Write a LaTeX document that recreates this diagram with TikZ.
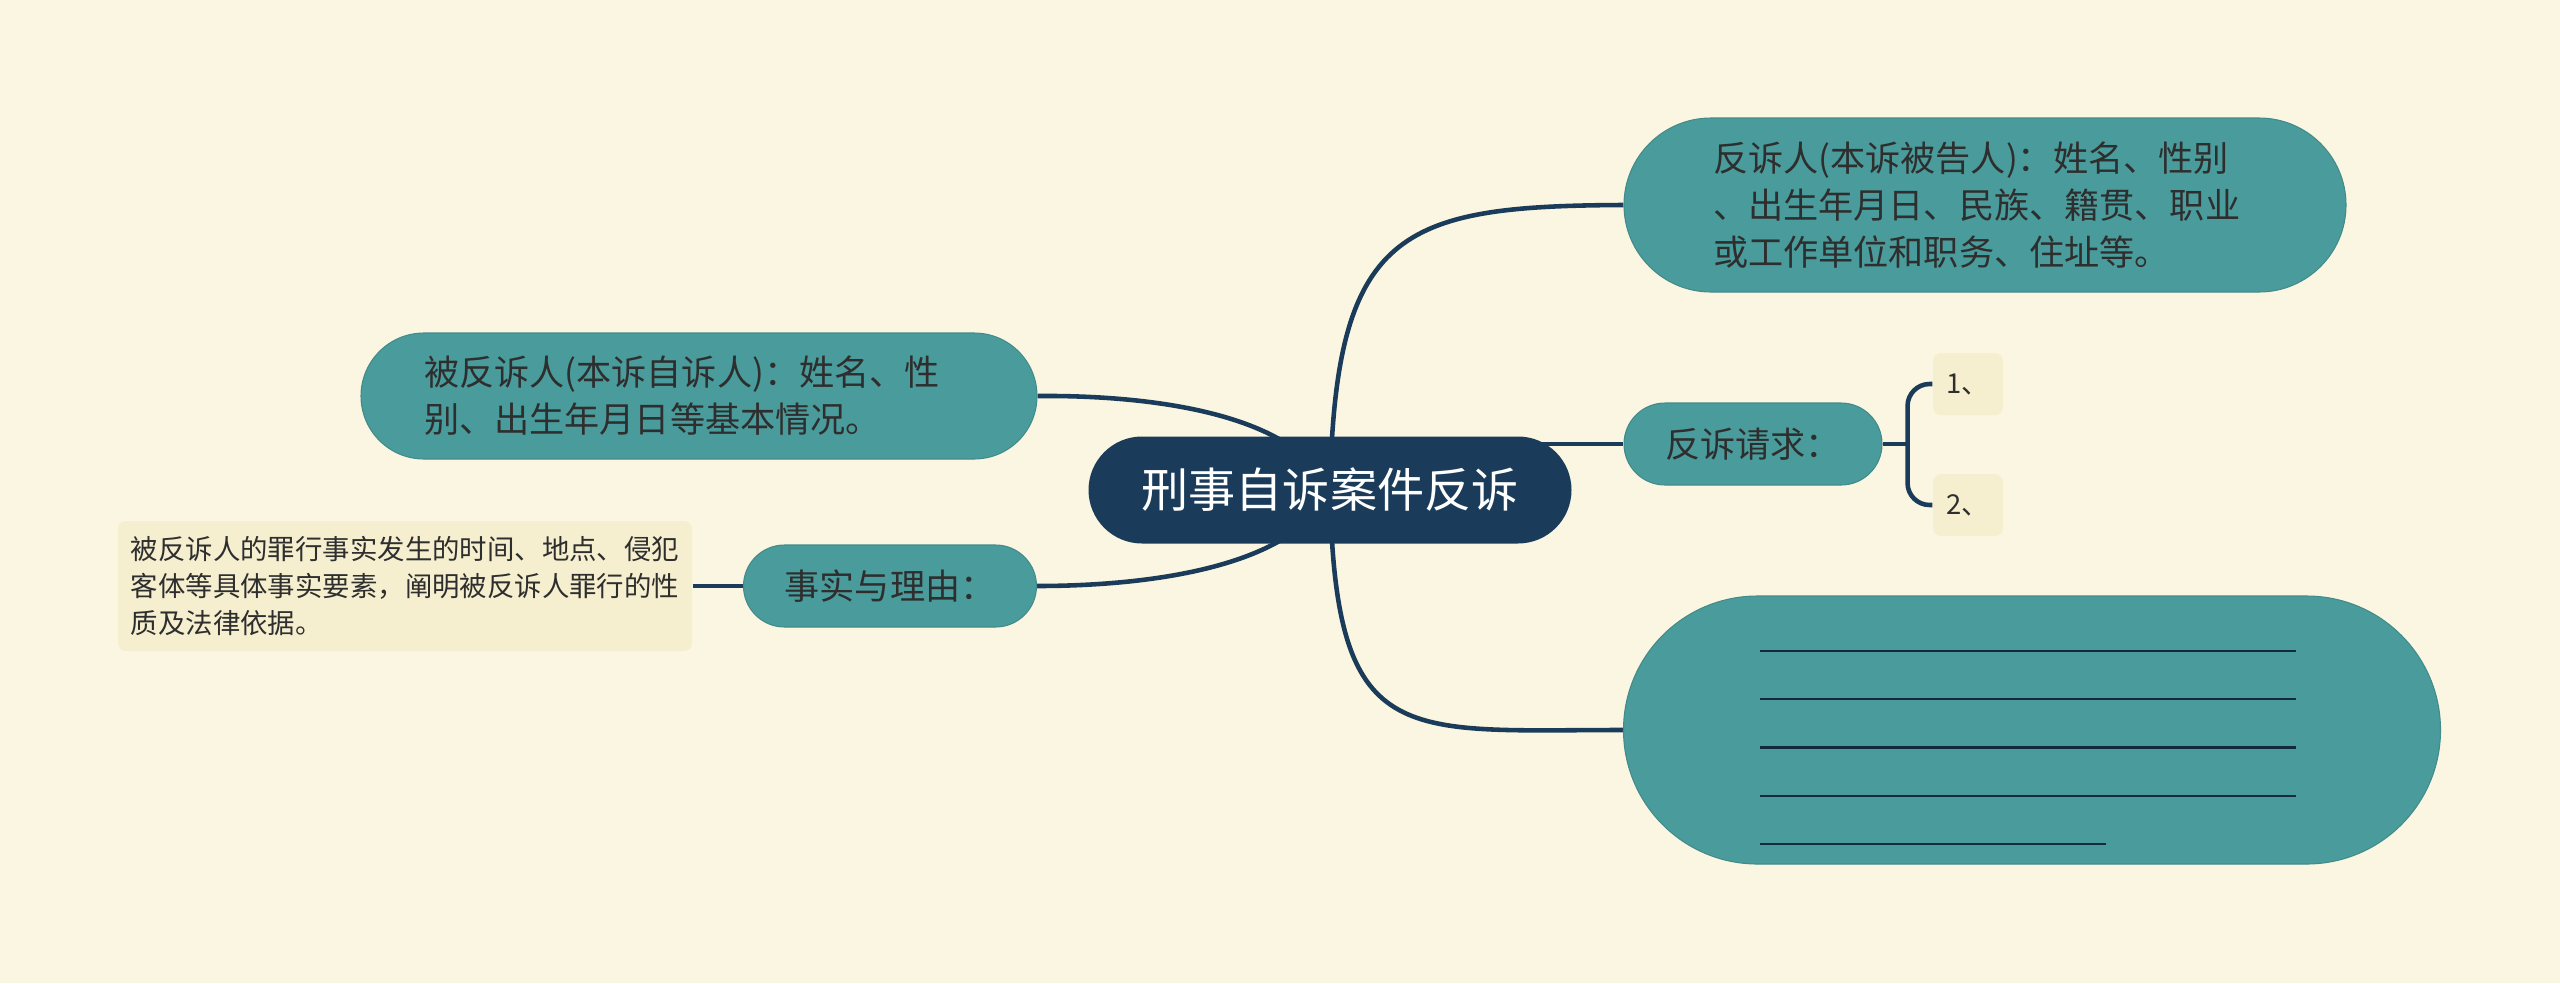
\documentclass[tikz,border=0pt]{standalone}
\usepackage{fontspec}
\setmainfont{Noto Sans CJK SC}
\usepackage{tikz}

\definecolor{fondo}{HTML}{FAF6E1}
\definecolor{azul}{HTML}{1A3C5A}
\definecolor{verde}{HTML}{4A9B9B}
\definecolor{crema}{HTML}{F5EFCF}
\definecolor{texto}{HTML}{2E2E2E}

\pgfdeclarelayer{fondo}
\pgfdeclarelayer{ramas}
\pgfsetlayers{fondo,ramas,main}

\tikzset{
  raiz/.style={fill=azul, text=white, font=\fontsize{13.4}{16}\selectfont,
    minimum width=4.83cm, minimum height=1.07cm, rounded corners=0.535cm, inner sep=0pt},
  tema/.style={fill=verde, draw=verde!90!black, line width=0.3pt, text=texto,
    font=\fontsize{10}{13.4}\selectfont, align=left, inner sep=0pt},
  hoja/.style={fill=crema, text=texto, font=\fontsize{7.8}{10.5}\selectfont,
    align=left, rounded corners=0.08cm, inner sep=0pt},
  rama/.style={draw=azul, line width=1.3pt},
  renglon/.style={draw=azul!70!black, line width=0.6pt},
}

\begin{document}
\begin{tikzpicture}
        % Fondo
        \useasboundingbox (0,0) rectangle (25.6,9.83);
        \begin{pgfonlayer}{fondo}
          \fill[fondo] (0,0) rectangle (25.6,9.83);
        \end{pgfonlayer}

        % Nodo central
        \node[raiz] (root) at (13.30,4.93) {刑事自诉案件反诉};

        % Lado derecho
        \node[tema, text width=5.44cm, minimum width=7.22cm, minimum height=1.74cm, rounded corners=0.87cm] (fsr) at (19.85,7.78)
          {反诉人(本诉被告人)：姓名、性别\\、出生年月日、民族、籍贯、职业\\或工作单位和职务、住址等。};
        \node[tema, minimum width=2.58cm, minimum height=0.82cm, rounded corners=0.41cm] (fsqq) at (17.53,5.39) {反诉请求：};
        \node[hoja, minimum width=0.70cm, minimum height=0.62cm] (q1) at (19.68,5.99) {1、};
        \node[hoja, minimum width=0.70cm, minimum height=0.62cm] (q2) at (19.68,4.78) {2、};
        \node[tema, minimum width=8.17cm, minimum height=2.68cm, rounded corners=1.34cm] (blank) at (20.32,2.53) {};

        % Lado izquierdo
        \node[tema, text width=5.50cm, minimum width=6.76cm, minimum height=1.26cm, rounded corners=0.63cm] (bfs) at (6.99,5.87)
          {被反诉人(本诉自诉人)：姓名、性\\别、出生年月日等基本情况。};
        \node[tema, minimum width=2.93cm, minimum height=0.82cm, rounded corners=0.41cm] (ssly) at (8.90,3.97) {事实与理由：};
        \node[hoja, minimum width=5.74cm, minimum height=1.30cm] (leafL) at (4.05,3.97)
          {被反诉人的罪行事实发生的时间、地点、侵犯\\客体等具体事实要素，阐明被反诉人罪行的性\\质及法律依据。};

        % Renglones en blanco
        \foreach \i in {0,...,3}
          \draw[renglon] ([xshift=-2.72cm, yshift=0.79cm-\i*0.4825cm]blank.center) -- ++(5.36,0);
        \draw[renglon] ([xshift=-2.72cm, yshift=-1.14cm]blank.center) -- ++(3.46,0);

        % Ramas
        \coordinate (rq) at (root.center |- fsqq.west);
        \coordinate (brk) at ([xshift=0.25cm]fsqq.east);
        \begin{pgfonlayer}{ramas}
          \draw[rama] (root.center) .. controls (13.35,7.53) and (14.00,7.77) .. (fsr.west);
          \draw[rama] (root.center) .. controls (13.35,2.33) and (14.00,2.53) .. (blank.west);
          \draw[rama] (rq) -- (fsqq.west);
          \draw[rama] (root.center) .. controls (12.95,5.70) and (11.50,5.88) .. (bfs.east);
          \draw[rama] (root.center) .. controls (12.95,4.16) and (11.50,3.97) .. (ssly.east);
          \draw[rama] (ssly.west) -- (leafL.east);
          \draw[rama] (fsqq.east) -- (brk);
          \draw[rama, rounded corners=0.22cm] (q1.west) -| (brk) |- (q2.west);
        \end{pgfonlayer}

    \end{tikzpicture}
\end{document}
